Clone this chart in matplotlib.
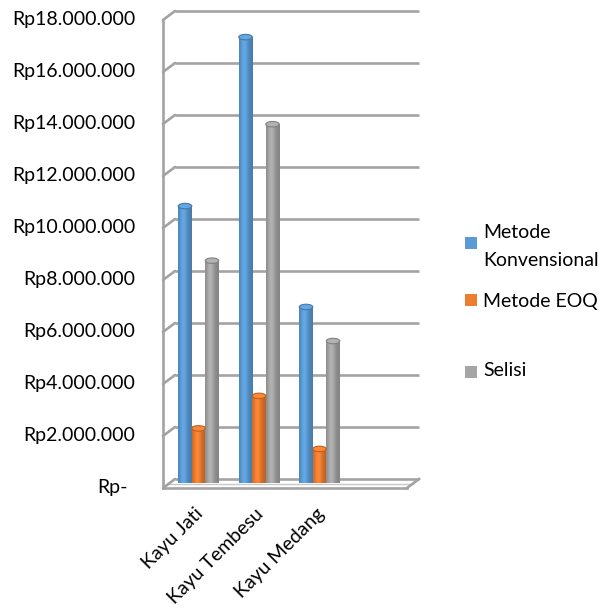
import matplotlib
matplotlib.use("Agg")
import matplotlib.pyplot as plt
import numpy as np
from matplotlib.patches import Ellipse, Rectangle
from matplotlib.transforms import ScaledTranslation
import matplotlib.colors as mcolors

# ---- data ----
categories = ["Kayu Jati", "Kayu Tembesu", "Kayu Medang"]
series_names = ["Metode\nKonvensional", "Metode EOQ", "Selisi"]
konvensional = [10650000, 17150000, 6770000]
eoq = [2100000, 3350000, 1310000]
selisi = [8550000, 13800000, 5460000]
tick_values = [0, 2e6, 4e6, 6e6, 8e6, 10e6, 12e6, 14e6, 16e6, 18e6]
tick_labels = ["Rp-", "Rp2.000.000", "Rp4.000.000", "Rp6.000.000", "Rp8.000.000",
               "Rp10.000.000", "Rp12.000.000", "Rp14.000.000", "Rp16.000.000",
               "Rp18.000.000"]

colors = ["#5B9BD5", "#ED7D31", "#A5A5A5"]
FONT = ["Lato", "DejaVu Sans"]
plt.rcParams['font.family'] = FONT

W, H, DPI = 606, 610, 100
fig = plt.figure(figsize=(W / DPI, H / DPI), dpi=DPI)

# bar plane in pixels
px_left, px_right, px_y0, px_ytop = 169, 413, 483, 15
ax = fig.add_axes([px_left / W, (H - px_y0) / H, (px_right - px_left) / W,
                   (px_y0 - px_ytop) / H])
xmin, xmax = -0.488, 3.545
ymax = 18e6
ax.set_xlim(xmin, xmax)
ax.set_ylim(0, ymax)
ax.axis('off')


def off(dx, dy):
    return ax.transData + ScaledTranslation(dx / DPI, dy / DPI, fig.dpi_scale_trans)


back = off(6, 4)
front = off(-6, -5)
gc = "#A3A3A3"
glw = 1.9

for v in tick_values:
    ax.plot([xmin, xmax], [v, v], color=gc, lw=glw, transform=back,
            clip_on=False, solid_capstyle='butt', zorder=1)
for v in tick_values:
    fx, fy = front.transform((xmin, v))
    bx, by = back.transform((xmin, v))
    fig.add_artist(plt.Line2D([fx, bx], [fy, by], color=gc, lw=glw,
                              transform=None, zorder=1, solid_capstyle='round'))
ax.plot([xmin, xmin], [0, ymax], color=gc, lw=glw, transform=front,
        clip_on=False, zorder=1)
ax.plot([xmin, xmax], [0, 0], color=gc, lw=glw, transform=front,
        clip_on=False, zorder=1)
fx, fy = front.transform((xmax, 0))
bx, by = back.transform((xmax, 0))
fig.add_artist(plt.Line2D([fx, bx], [fy, by], color=gc, lw=glw,
                          transform=None, zorder=1))
ax.plot([xmin, xmax], [0, 0], color="#C8C8C8", lw=1.0,
        transform=off(0, -1), clip_on=False, zorder=1)

# ---- cylinders ----
bw = 0.223
series = [konvensional, eoq, selisi]
grad_x = np.linspace(0, 1, 64)
shade = 0.80 + 0.28 * np.exp(-((grad_x - 0.38) / 0.30) ** 2)
ell_h = 5.5 / 26 * 1e6
for si, vals in enumerate(series):
    base = np.array(mcolors.to_rgb(colors[si]))
    img = np.clip(base[None, :] * shade[:, None], 0, 1)[None, :, :]
    dark = np.clip(base * 0.78, 0, 1)
    light = np.clip(base * 1.08, 0, 1)
    for ci, v in enumerate(vals):
        xc = ci + (si - 1) * bw
        ax.imshow(img, extent=[xc - bw / 2, xc + bw / 2, 0, v],
                  aspect='auto', interpolation='bilinear', zorder=3)
        ax.add_patch(Ellipse((xc, 0), bw, ell_h, facecolor=tuple(base * 0.85),
                             edgecolor='none', zorder=2.9))
        ax.add_patch(Ellipse((xc, v), bw, ell_h, facecolor=tuple(light),
                             edgecolor=tuple(dark), lw=0.8, zorder=4))
ax.set_xlim(xmin, xmax)
ax.set_ylim(0, ymax)

# ---- tick labels ----
for v, lab in zip(tick_values, tick_labels):
    dx = -41 if lab == "Rp-" else -34
    ax.text(xmin, v, lab, transform=off(dx, -5), ha='right', va='center',
            fontsize=14, color='black')

# category labels
for ci, cat in enumerate(categories):
    ax.text(ci, 0, cat, transform=off(2, -28), ha='right', va='center',
            rotation=45, rotation_mode='anchor', fontsize=14, color='black')

# ---- legend ----
leg_items = [(series_names[0], 243, [233, 260]), (series_names[1], 300, [302]),
             (series_names[2], 372, [371])]
for si, (name, sq_y, text_ys) in enumerate(leg_items):
    x0, size = 465, 12
    fig.add_artist(Rectangle((x0 / W, (H - sq_y - size / 2) / H), size / W,
                             size / H, transform=fig.transFigure,
                             facecolor=colors[si], edgecolor='none'))
    for line, ty in zip(name.split("\n"), text_ys):
        fig.text(483 / W, (H - ty) / H, line, ha='left', va='center',
                 fontsize=14, color='black')

fig.savefig("out.png", dpi=DPI)
